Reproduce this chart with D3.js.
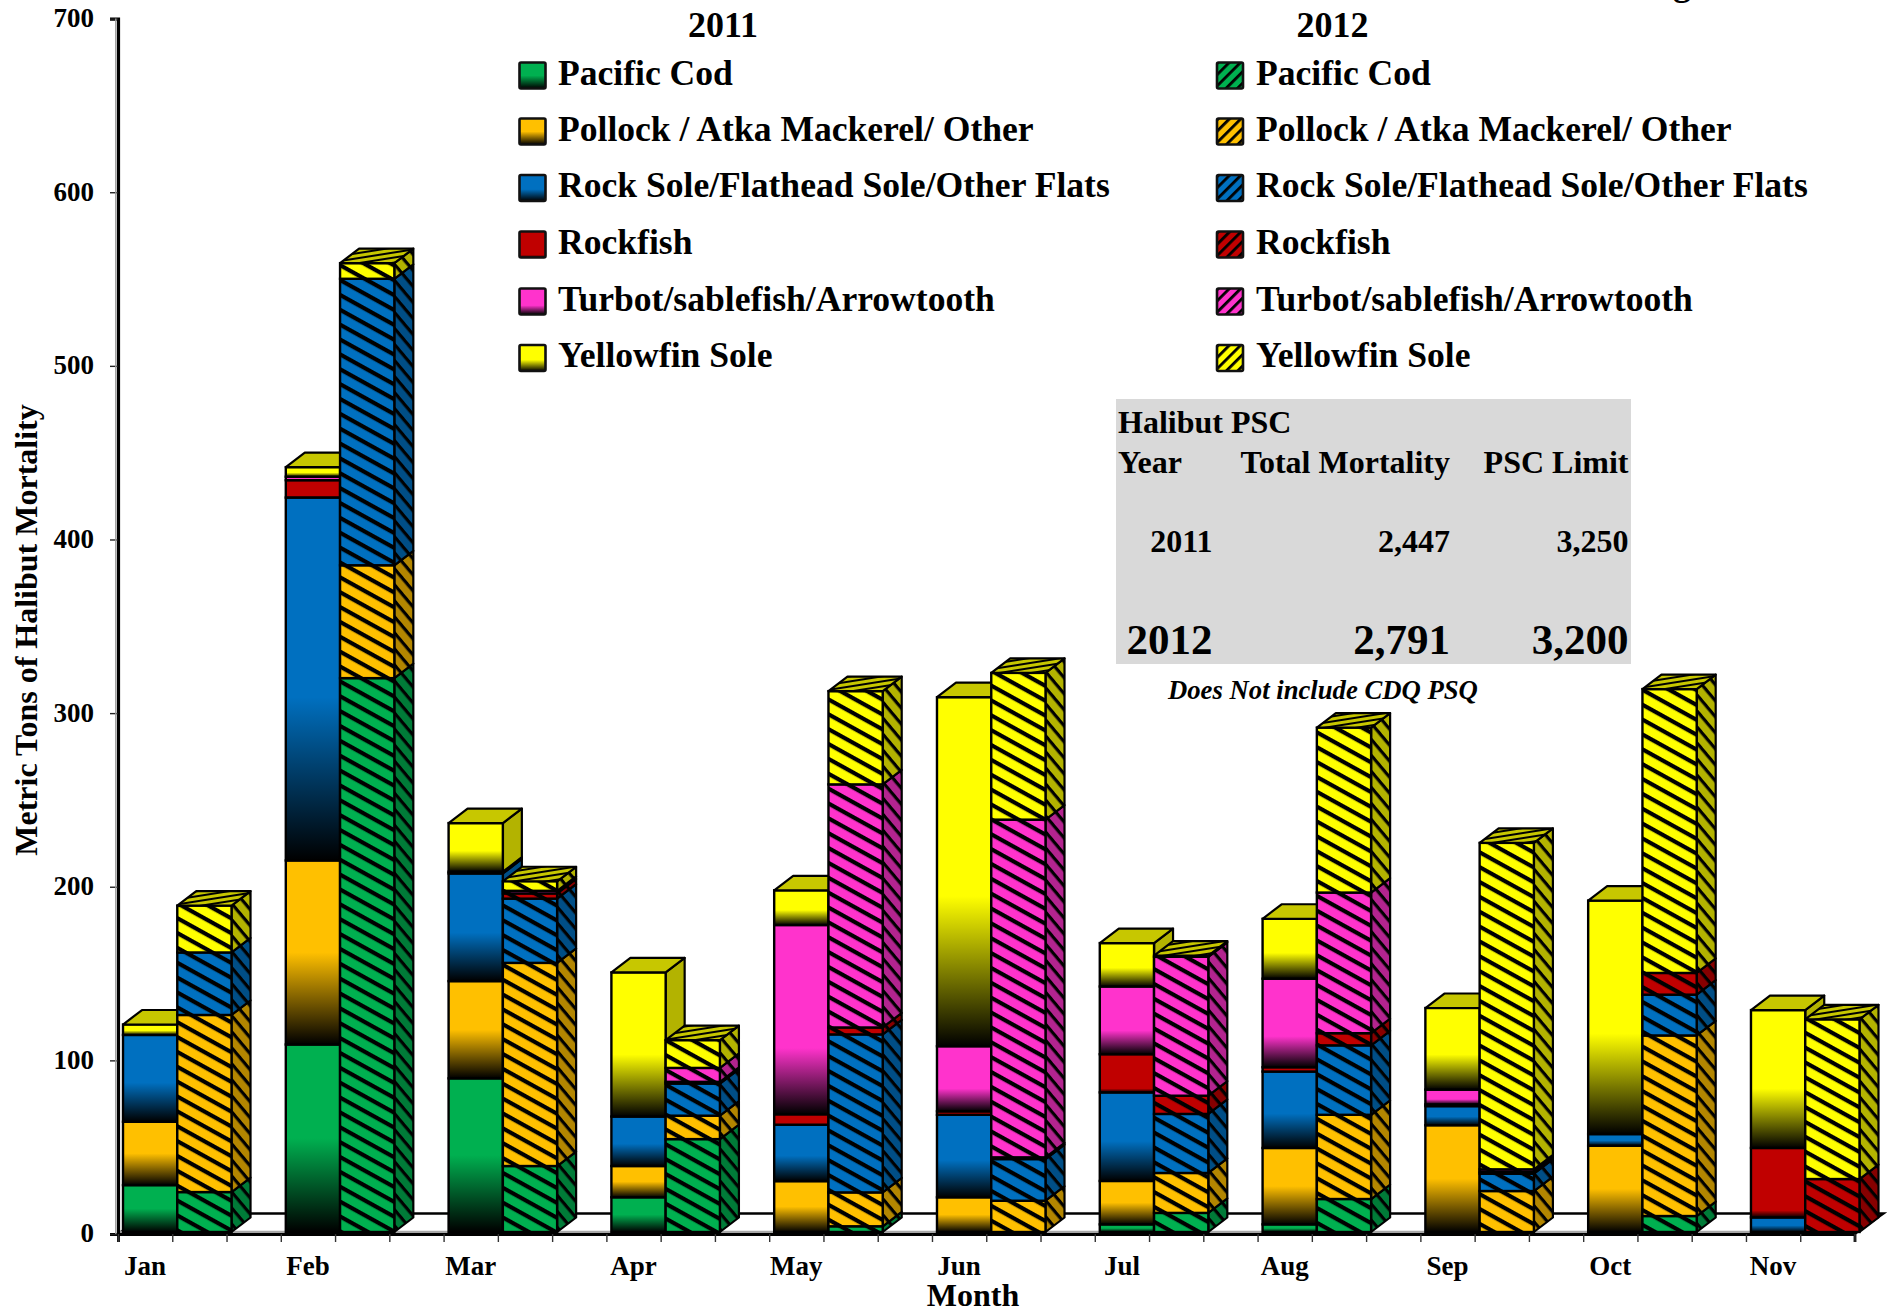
<!DOCTYPE html>
<html>
<head>
<meta charset="utf-8">
<script src="https://cdn.jsdelivr.net/npm/d3@7/dist/d3.min.js"></script>
<style>
html,body{margin:0;padding:0;background:#fff}
svg{display:block}
text{font-family:"Liberation Serif",serif;font-weight:bold;fill:#000}
</style>
</head>
<body>
<div id="chart"></div>
<script>
const months = ["Jan","Feb","Mar","Apr","May","Jun","Jul","Aug","Sep","Oct","Nov"];
const years = ["2011","2012"];
const species = ["Pacific Cod","Pollock / Atka Mackerel/ Other","Rock Sole/Flathead Sole/Other Flats","Rockfish","Turbot/sablefish/Arrowtooth","Yellowfin Sole"];
const colors = ["#00B050","#FFC000","#0070C0","#C00000","#FF33CC","#FFFF00"];
const solidStops = [0.5,0.5,0.55,0.9,0.65,0.57];

const cod2011      = [27,108,88.5,20,0,0,4.4,4.4,0,0,0];
const pollock2011  = [36.5,106,56,18,29.3,20,25,44,61.5,49.7,0];
const flats2011    = [50,209,62,28.5,32.5,47.5,51,44,11,6.7,8.4];
const rockfish2011 = [0,10,0,0,6,2,22,2.5,1,0,40];
const turbot2011   = [0,2,1,0,109,37.5,39,51,8.5,0,0];
const yellow2011   = [6,5.5,28,83,20,201,25,34.5,47,134.5,79.4];

const cod2012      = [23,319,38,53.5,3.3,0,11,19,0,9.2,0];
const pollock2012  = [102,65,117,13.5,19.5,18,23,48.5,23.6,104,0];
const flats2012    = [36,165,37,18.5,91,24,34,40,10,23.5,0];
const rockfish2012 = [0,0,3,1,4,1,10.5,7,1,12.5,30.5];
const turbot2012   = [0,0,1.5,8,140,194.5,80,81,1.5,0,0];
const yellow2012   = [27,9,5.5,16,53.7,84.5,0.7,95,188,163.5,92];

const yTicks = [0,100,200,300,400,500,600,700];
const psc = [
  ["2011","2,447","3,250"],
  ["2012","2,791","3,200"]
];

const series2011 = [cod2011,pollock2011,flats2011,rockfish2011,turbot2011,yellow2011];
const series2012 = [cod2012,pollock2012,flats2012,rockfish2012,turbot2012,yellow2012];

const W = 1890, H = 1310;
const svg = d3.select("#chart").append("svg").attr("width",W).attr("height",H).attr("viewBox",[0,0,W,H]);
svg.append("rect").attr("width",W).attr("height",H).attr("fill","#fff");
const defs = svg.append("defs");

const x = d3.scaleLinear().domain([0,32]).range([118,1854.5]);
const y = d3.scaleLinear().domain([0,700]).range([1234,18.6]);
const barGap = 5, baseLift = 2, depthX = 19, depthY = 14.5;
const floorDX = 29, floorDY = 20.5;

// gradients and hatches
function hatch(id, bg, angle, spacing, thick){
  const p = defs.append("pattern").attr("id",id).attr("patternUnits","userSpaceOnUse")
    .attr("width",200).attr("height",spacing)
    .attr("patternTransform",`rotate(${angle})`);
  p.append("rect").attr("width",200).attr("height",spacing).attr("fill",bg);
  p.append("rect").attr("width",200).attr("height",thick).attr("fill","#000");
}
colors.forEach((c,i)=>{
  const g = defs.append("linearGradient").attr("id","grad"+i).attr("x1",0).attr("x2",0).attr("y1",0).attr("y2",1);
  g.append("stop").attr("offset",solidStops[i]).attr("stop-color",c);
  g.append("stop").attr("offset",1).attr("stop-color","#000");
  const side = d3.rgb(c).darker(1).formatHex();
  const top = d3.rgb(c).darker(0.7).formatHex();
  hatch("front"+i,c,29,13,4.2);
  hatch("side"+i,side,50,10.3,3.2);
  hatch("top"+i,top,-9,5,2);
  hatch("leg"+i,c,-45,8,2.8);
});

// floor
const floorPts = [[x(0),y(0)],[x(0)+floorDX,y(0)-floorDY],[x(32)+floorDX,y(0)-floorDY],[x(32),y(0)]];
svg.append("polygon").attr("points",floorPts.join(" ")).attr("fill","#fff").attr("stroke","#000").attr("stroke-width",2.4);
svg.append("line").attr("x1",x(0)).attr("x2",x(32)).attr("y1",y(0)-2).attr("y2",y(0)-2).attr("stroke","#a8a8a8").attr("stroke-width",2.4);

// axes
const yAxis = svg.append("g").attr("transform",`translate(${x(0)},0)`)
  .call(d3.axisLeft(y).tickValues(yTicks).tickSize(8).tickPadding(16).tickFormat(d3.format("d")));
yAxis.select(".domain").attr("stroke","#000").attr("stroke-width",3.2);
yAxis.selectAll(".tick line").attr("stroke","#222").attr("stroke-width",1.4);
yAxis.selectAll(".tick text").attr("font-size",27).attr("dy","0.33em")
  .attr("transform","translate(0,-1)").style("font-family",'"Liberation Serif"').style("font-weight","bold");
svg.append("line").attr("x1",x(0)-2.2).attr("x2",x(0)-2.2).attr("y1",y(700)).attr("y2",y(0)).attr("stroke","#999").attr("stroke-width",1.4);

const xAxis = svg.append("g").attr("transform",`translate(0,${y(0)})`)
  .call(d3.axisBottom(x).tickValues(d3.range(33)).tickSize(8).tickFormat(""));
xAxis.select(".domain").attr("stroke","#000").attr("stroke-width",2.8);
xAxis.selectAll(".tick line").attr("stroke","#333").attr("stroke-width",1.4);

// bars
function drawBar(month, yearIdx){
  const rows = [{}];
  const src = yearIdx===0 ? series2011 : series2012;
  species.forEach((s,i)=>rows[0][s]=src[i][month]);
  const stacked = d3.stack().keys(species)(rows);
  const x0 = x(month*3+yearIdx)+barGap, x1 = x(month*3+yearIdx+1)+barGap;
  const segs = stacked.map((l,i)=>({i,lo:l[0][0],hi:l[0][1]})).filter(d=>d.hi>d.lo);
  const g = svg.append("g");
  const yb = v => y(v)-baseLift;
  g.selectAll("path.side").data(segs).join("path").attr("class","side")
    .attr("d",d=>`M${x1},${yb(d.lo)}L${x1+depthX},${yb(d.lo)-depthY}L${x1+depthX},${yb(d.hi)-depthY}L${x1},${yb(d.hi)}Z`)
    .attr("fill",d=>yearIdx===0?d3.rgb(colors[d.i]).darker(1).formatHex():`url(#side${d.i})`)
    .attr("stroke","#000").attr("stroke-width",2.2).attr("stroke-linejoin","round");
  g.selectAll("rect.front").data(segs).join("rect").attr("class","front")
    .attr("x",x0).attr("width",x1-x0)
    .attr("y",d=>yb(d.hi)).attr("height",d=>yb(d.lo)-yb(d.hi))
    .attr("fill",d=>yearIdx===0?`url(#grad${d.i})`:`url(#front${d.i})`)
    .attr("stroke","#000").attr("stroke-width",2.4);
  const t = segs[segs.length-1];
  g.append("path")
    .attr("d",`M${x0},${yb(t.hi)}L${x0+depthX},${yb(t.hi)-depthY}L${x1+depthX},${yb(t.hi)-depthY}L${x1},${yb(t.hi)}Z`)
    .attr("fill",yearIdx===0?d3.rgb(colors[t.i]).darker(0.7).formatHex():`url(#top${t.i})`)
    .attr("stroke","#000").attr("stroke-width",2.2).attr("stroke-linejoin","round");
}
months.forEach((m,i)=>{drawBar(i,0);drawBar(i,1);});

// month labels
svg.append("g").selectAll("text").data(months).join("text")
  .attr("x",(d,i)=>x(i*3+0.5)).attr("y",1275).attr("text-anchor","middle").attr("font-size",27).text(d=>d);
svg.append("text").attr("x",973).attr("y",1306).attr("text-anchor","middle").attr("font-size",32).text("Month");
svg.append("text").attr("transform","translate(37,630) rotate(-90)").attr("text-anchor","middle").attr("font-size",32)
  .text("Metric Tons of Halibut Mortality");

// clipped remnant of the title, running off the top of the picture
svg.append("text").attr("x",1682).attr("y",-5).attr("text-anchor","middle").attr("font-size",36).text("g");

// legend
const rowY = [84.5,140.5,197,253.5,310.5,367];
[[519.5,558,723,"grad"],[1217,1256,1332.5,"leg"]].forEach(([sx,tx,yx,kind],k)=>{
  svg.append("text").attr("x",yx).attr("y",37).attr("text-anchor","middle").attr("font-size",36).text(years[k]);
  const g = svg.append("g").selectAll("g").data(species).join("g");
  g.append("rect").attr("x",sx).attr("y",(d,i)=>rowY[i]-22).attr("width",26).attr("height",26)
    .attr("rx",1.5).attr("fill",(d,i)=>`url(#${kind}${i})`).attr("stroke","#111").attr("stroke-width",2.6);
  g.append("text").attr("x",tx).attr("y",(d,i)=>rowY[i]).attr("font-size",35.6).text(d=>d);
});

// PSC table
svg.append("rect").attr("x",1116).attr("y",399).attr("width",515).attr("height",265).attr("fill","#d9d9d9");
const tbl = svg.append("g");
tbl.append("text").attr("x",1118).attr("y",433).attr("font-size",32).text("Halibut PSC");
tbl.append("text").attr("x",1118).attr("y",473).attr("font-size",32).text("Year");
tbl.append("text").attr("x",1450).attr("y",473).attr("text-anchor","end").attr("font-size",32).text("Total Mortality");
tbl.append("text").attr("x",1628.5).attr("y",473).attr("text-anchor","end").attr("font-size",32).text("PSC Limit");
const colEnd = [1212.5,1450,1628.5], rowBase = [552,654], rowSize = [32,43];
psc.forEach((r,ri)=>r.forEach((v,ci)=>{
  tbl.append("text").attr("x",colEnd[ci]).attr("y",rowBase[ri]).attr("text-anchor","end").attr("font-size",rowSize[ri]).text(v);
}));
svg.append("text").attr("x",1168).attr("y",699).attr("font-size",26.7).attr("font-style","italic").text("Does Not include CDQ PSQ");
</script>
</body>
</html>
